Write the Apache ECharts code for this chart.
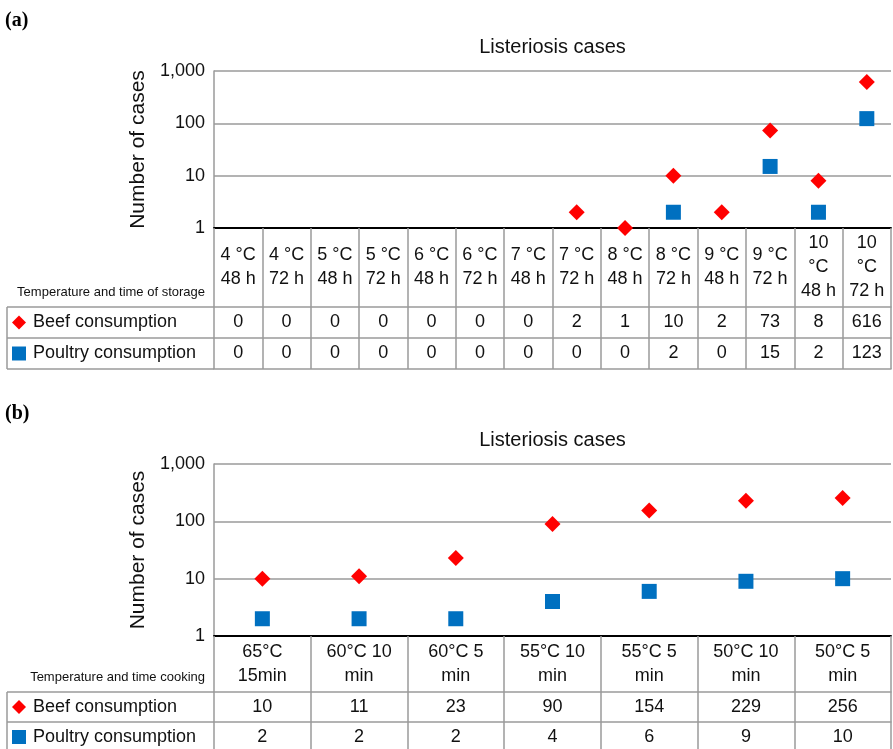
<!DOCTYPE html>
<html>
<head>
<meta charset="utf-8">
<script src="https://cdn.jsdelivr.net/npm/echarts@6/dist/echarts.min.js"></script>
<style>
  html, body { margin: 0; padding: 0; background: #fff; }
  #chart { width: 893px; height: 749px; }
</style>
</head>
<body>
<div id="chart"></div>
<script>
// panel (a): storage conditions
const storageLabels = ['4 °C\n48 h', '4 °C\n72 h', '5 °C\n48 h', '5 °C\n72 h', '6 °C\n48 h', '6 °C\n72 h', '7 °C\n48 h',
  '7 °C\n72 h', '8 °C\n48 h', '8 °C\n72 h', '9 °C\n48 h', '9 °C\n72 h', '10\n°C\n48 h', '10\n°C\n72 h']
const beefStorage = [0, 0, 0, 0, 0, 0, 0, 2, 1, 10, 2, 73, 8, 616]
const poultryStorage = [0, 0, 0, 0, 0, 0, 0, 0, 0, 2, 0, 15, 2, 123]

// panel (b): cooking conditions
const cookingLabels = ['65°C\n15min', '60°C 10\nmin', '60°C 5\nmin', '55°C 10\nmin', '55°C 5\nmin', '50°C 10\nmin', '50°C 5\nmin']
const beefCooking = [10, 11, 23, 90, 154, 229, 256]
const poultryCooking = [2, 2, 2, 4, 6, 9, 10]

const yTicks = [1, 10, 100, 1000]

const FONT = '"Liberation Sans", Arial, Helvetica, sans-serif'
const GRAY = '#9a9a9a'
const TEXT = '#111'
const RED = '#ff0000'
const BLUE = '#0070c0'
const LEFT = 214
const RIGHT_EDGE = 891

const panels = [
  { top: 71, height: 157, rows: [79, 31, 31], tag: '(a)', rowTitle: 'Temperature and time of storage',
    labels: storageLabels, beef: beefStorage, poultry: poultryStorage },
  { top: 464, height: 172, rows: [56, 30, 30], tag: '(b)', rowTitle: 'Temperature and time cooking',
    labels: cookingLabels, beef: beefCooking, poultry: poultryCooking }
]

function rowAxis(gi, data, offset, h, first) {
  return {
    type: 'category',
    gridIndex: gi,
    position: 'bottom',
    offset: offset,
    data: data,
    boundaryGap: true,
    axisLine: { show: true, lineStyle: first ? { color: '#000', width: 2 } : { color: GRAY, width: 1.5 } },
    axisTick: { show: h > 0, length: h, interval: 0, lineStyle: { color: GRAY, width: 1.5 } },
    axisLabel: {
      show: h > 0, interval: 0, margin: h / 2, verticalAlign: 'middle',
      fontSize: 18, lineHeight: 24, color: TEXT, fontFamily: FONT
    },
    splitLine: { show: false }
  }
}

const grid = [], xAxis = [], yAxis = [], series = [], legend = [], graphic = []

panels.forEach((p, gi) => {
  grid.push({ left: LEFT, right: 893 - RIGHT_EDGE, top: p.top, height: p.height, outerBoundsMode: 'none', containLabel: false })

  const [h0, h1, h2] = p.rows
  xAxis.push(rowAxis(gi, p.labels, 0, h0, true))
  xAxis.push(rowAxis(gi, p.beef.map(String), h0, h1, false))
  xAxis.push(rowAxis(gi, p.poultry.map(String), h0 + h1, h2, false))
  xAxis.push(rowAxis(gi, p.labels, h0 + h1 + h2, 0, false))

  yAxis.push({
    type: 'log',
    gridIndex: gi,
    logBase: 10,
    min: yTicks[0],
    max: yTicks[yTicks.length - 1],
    name: 'Number of cases',
    nameLocation: 'middle',
    nameGap: 65,
    nameTextStyle: { fontSize: 21, color: TEXT, fontFamily: FONT },
    axisLine: { show: true, lineStyle: { color: GRAY, width: 1.5 } },
    axisTick: { show: false },
    axisLabel: {
      margin: 9, fontSize: 18, color: TEXT, fontFamily: FONT,
      formatter: v => Number(v).toLocaleString('en-US')
    },
    splitLine: { show: true, lineStyle: { color: GRAY, width: 1.5 } }
  })

  const xi = gi * 4
  series.push({
    name: 'Beef consumption', type: 'scatter', xAxisIndex: xi, yAxisIndex: gi,
    symbol: 'diamond', symbolSize: 16, itemStyle: { color: RED, opacity: 1 },
    data: p.beef.map(v => (v > 0 ? v : null)), z: 3
  })
  series.push({
    name: 'Poultry consumption', type: 'scatter', xAxisIndex: xi, yAxisIndex: gi,
    symbol: 'rect', symbolSize: 15, itemStyle: { color: BLUE, opacity: 1 },
    data: p.poultry.map(v => (v > 0 ? v : null)), z: 3
  })

  const y0 = p.top + p.height
  const y1 = y0 + h0, y2 = y1 + h1, y3 = y2 + h2
  const legendBase = {
    orient: 'horizontal', left: 12, padding: 0, itemWidth: 14, itemHeight: 14, itemGap: 8,
    selectedMode: false, itemStyle: { opacity: 1 },
    textStyle: { fontSize: 18, color: TEXT, fontFamily: FONT, padding: [0, 0, 0, 2] }
  }
  legend.push(Object.assign({}, legendBase, { top: y1 + h1 / 2 - 9, data: [{ name: 'Beef consumption', icon: 'diamond' }] }))
  legend.push(Object.assign({}, legendBase, { top: y2 + h2 / 2 - 9, data: [{ name: 'Poultry consumption', icon: 'rect' }] }))

  // left column box of the data table
  const ls = { stroke: GRAY, lineWidth: 1.5 }
  ;[y1, y2, y3].forEach(y => {
    graphic.push({ type: 'line', shape: { x1: 7, y1: y, x2: LEFT, y2: y }, style: ls, silent: true })
  })
  graphic.push({ type: 'line', shape: { x1: 7, y1: y1, x2: 7, y2: y3 }, style: ls, silent: true })

  graphic.push({
    type: 'text', x: 205, y: y0 + h0 - 15,
    style: { text: p.rowTitle, fill: TEXT, font: '13px ' + FONT, textAlign: 'right', textVerticalAlign: 'middle', align: 'right', verticalAlign: 'middle' }
  })
  graphic.push({
    type: 'text', x: (LEFT + RIGHT_EDGE) / 2, y: p.top - 24,
    style: { text: 'Listeriosis cases', fill: TEXT, font: '20px ' + FONT, textAlign: 'center', textVerticalAlign: 'middle', align: 'center', verticalAlign: 'middle' }
  })
  graphic.push({
    type: 'text', x: 5, y: p.top - 50,
    style: { text: p.tag, fill: '#000', font: 'bold 20px "Liberation Serif", "Times New Roman", serif', textAlign: 'left', textVerticalAlign: 'middle', align: 'left', verticalAlign: 'middle' }
  })
})

const chart = echarts.init(document.getElementById('chart'), null, { renderer: 'canvas' })
chart.setOption({
  backgroundColor: '#fff',
  animation: false,
  grid, xAxis, yAxis, series, legend, graphic
})
</script>
</body>
</html>
